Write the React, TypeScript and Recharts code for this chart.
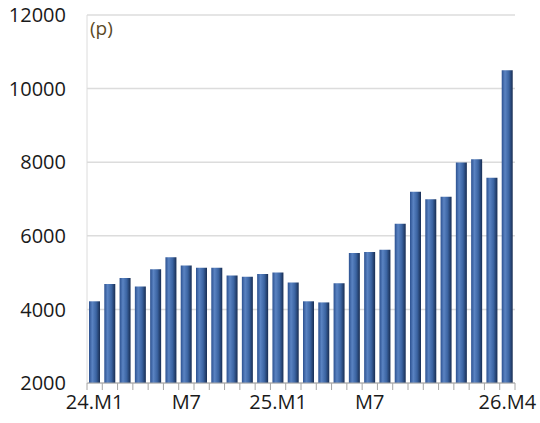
import React from 'react';
import { BarChart, Bar, XAxis, YAxis, CartesianGrid } from 'recharts';

const months = [
  '24.M1', '24.M2', '24.M3', '24.M4', '24.M5', '24.M6', '24.M7', '24.M8', '24.M9', '24.M10', '24.M11', '24.M12',
  '25.M1', '25.M2', '25.M3', '25.M4', '25.M5', '25.M6', '25.M7', '25.M8', '25.M9', '25.M10', '25.M11', '25.M12',
  '26.M1', '26.M2', '26.M3', '26.M4',
];
const values = [
  4220, 4690, 4850, 4620, 5090, 5420, 5190, 5130, 5130, 4920, 4890, 4960,
  5000, 4730, 4220, 4190, 4710, 5530, 5560, 5620, 6330,
  7200, 6990, 7060, 7990, 8080, 7580, 10500,
];
const tickLabels: Record<string, string> = {
  '24.M1': '24.M1',
  '24.M7': 'M7',
  '25.M1': '25.M1',
  '25.M7': 'M7',
  '26.M4': '26.M4',
};
const yTicks = [2000, 4000, 6000, 8000, 10000, 12000];
const unitLabel = '(p)';

const data = months.map((m, i) => ({ month: m, value: values[i] }));

const W = 540;
const H = 423;
const M = { top: 15, right: 25, left: 0, bottom: 0 };
const Y_W = 87;
const X_H = 40;
const PLOT_W = W - M.left - M.right - Y_W;
const STEP = PLOT_W / months.length;

const XTick = (props: any) => {
  const { x, y, payload, index } = props;
  const label = tickLabels[payload.value] || '';
  const isLast = index === months.length - 1;
  return (
    <g>
      <line x1={x - STEP / 2} x2={x - STEP / 2} y1={y - 8} y2={y - 1} stroke="#a6a6a6" />
      {isLast && <line x1={x + STEP / 2} x2={x + STEP / 2} y1={y - 8} y2={y - 1} stroke="#a6a6a6" />}
      {label && (
        <text x={x} y={y + 18} textAnchor="middle" fontSize={20} fill="#1a1a1a" fontFamily="'Open Sans', sans-serif">
          {label}
        </text>
      )}
    </g>
  );
};

export default function App() {
  return (
    <div style={{ position: 'absolute', left: 0, top: 0, background: '#fff' }}>
      <BarChart width={W} height={H} data={data} margin={M} barSize={11}>
        <defs>
          <linearGradient id="barGrad" x1="0" y1="0" x2="1" y2="0">
            <stop offset="0%" stopColor="#2c5190" />
            <stop offset="30%" stopColor="#5a83c2" />
            <stop offset="65%" stopColor="#3b64a2" />
            <stop offset="100%" stopColor="#182d52" />
          </linearGradient>
        </defs>
        <CartesianGrid vertical={false} stroke="#dcdcdc" strokeWidth={1.5} />
        <XAxis
          dataKey="month"
          height={X_H}
          interval={0}
          tickLine={false}
          axisLine={{ stroke: '#a6a6a6' }}
          tick={<XTick />}
        />
        <YAxis
          width={Y_W}
          domain={[2000, 12000]}
          ticks={yTicks}
          interval={0}
          tickLine={false}
          axisLine={{ stroke: '#dcdcdc' }}
          tickMargin={15}
          tick={{ fontSize: 20, fill: '#1a1a1a', fontFamily: "'Open Sans', sans-serif" }}
        />
        <YAxis
          yAxisId="right"
          orientation="right"
          width={0}
          tick={false}
          tickLine={false}
          axisLine={{ stroke: '#dcdcdc' }}
        />
        <Bar dataKey="value" fill="url(#barGrad)" isAnimationActive={false} />
        <text x={Y_W + 3} y={35} fontSize={19} fill="#5b4a25" fontFamily="'Open Sans', sans-serif">
          {unitLabel}
        </text>
      </BarChart>
    </div>
  );
}
